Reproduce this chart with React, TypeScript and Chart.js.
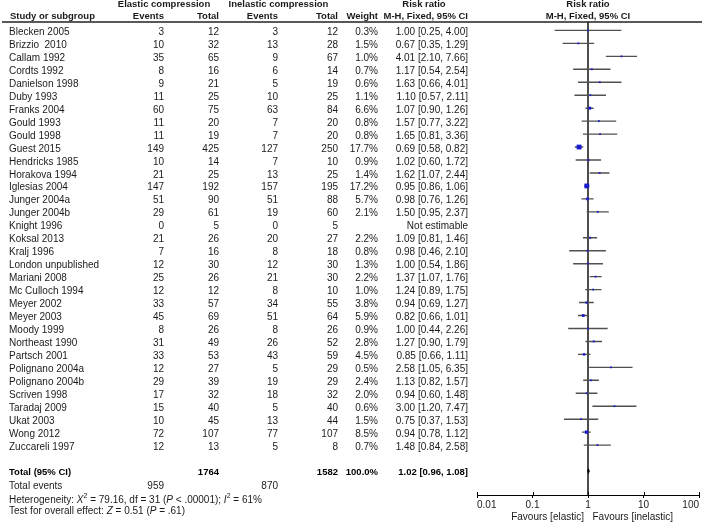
import React, { useEffect, useRef } from "react";
import { Chart, registerables } from "chart.js";

Chart.register(...registerables);

// ---------------- data ----------------
const studies = [
  "Blecken 2005", "Brizzio  2010", "Callam 1992", "Cordts 1992", "Danielson 1998",
  "Duby 1993", "Franks 2004", "Gould 1993", "Gould 1998", "Guest 2015",
  "Hendricks 1985", "Horakova 1994", "Iglesias 2004", "Junger 2004a", "Junger 2004b",
  "Knight 1996", "Koksal 2013", "Kralj 1996", "London unpublished", "Mariani 2008",
  "Mc Culloch 1994", "Meyer 2002", "Meyer 2003", "Moody 1999", "Northeast 1990",
  "Partsch 2001", "Polignano 2004a", "Polignano 2004b", "Scriven 1998", "Taradaj 2009",
  "Ukat 2003", "Wong 2012", "Zuccareli 1997",
];
const elasticEvents = [3, 10, 35, 8, 9, 11, 60, 11, 11, 149, 10, 21, 147, 51, 29, 0, 21, 7, 12, 25, 12, 33, 45, 8, 31, 33, 12, 29, 17, 15, 10, 72, 12];
const elasticTotals = [12, 32, 65, 16, 21, 25, 75, 20, 19, 425, 14, 25, 192, 90, 61, 5, 26, 16, 30, 26, 12, 57, 69, 26, 49, 53, 27, 39, 32, 40, 45, 107, 13];
const inelasticEvents = [3, 13, 9, 6, 5, 10, 63, 7, 7, 127, 7, 13, 157, 51, 19, 0, 20, 8, 12, 21, 8, 34, 51, 8, 26, 43, 5, 19, 18, 5, 13, 77, 5];
const inelasticTotals = [12, 28, 67, 14, 19, 25, 84, 20, 20, 250, 10, 25, 195, 88, 60, 5, 27, 18, 30, 30, 10, 55, 64, 26, 52, 59, 29, 29, 32, 40, 44, 107, 8];
const weights: (number | null)[] = [0.3, 1.5, 1.0, 0.7, 0.6, 1.1, 6.6, 0.8, 0.8, 17.7, 0.9, 1.4, 17.2, 5.7, 2.1, null, 2.2, 0.8, 1.3, 2.2, 1.0, 3.8, 5.9, 0.9, 2.8, 4.5, 0.5, 2.4, 2.0, 0.6, 1.5, 8.5, 0.7];
const riskRatios: (number | null)[] = [1.0, 0.67, 4.01, 1.17, 1.63, 1.1, 1.07, 1.57, 1.65, 0.69, 1.02, 1.62, 0.95, 0.98, 1.5, null, 1.09, 0.98, 1.0, 1.37, 1.24, 0.94, 0.82, 1.0, 1.27, 0.85, 2.58, 1.13, 0.94, 3.0, 0.75, 0.94, 1.48];
const ciLower: (number | null)[] = [0.25, 0.35, 2.1, 0.54, 0.66, 0.57, 0.9, 0.77, 0.81, 0.58, 0.6, 1.07, 0.86, 0.76, 0.95, null, 0.81, 0.46, 0.54, 1.07, 0.89, 0.69, 0.66, 0.44, 0.9, 0.66, 1.05, 0.82, 0.6, 1.2, 0.37, 0.78, 0.84];
const ciUpper: (number | null)[] = [4.0, 1.29, 7.66, 2.54, 4.01, 2.11, 1.26, 3.22, 3.36, 0.82, 1.72, 2.44, 1.06, 1.26, 2.37, null, 1.46, 2.1, 1.86, 1.76, 1.75, 1.27, 1.01, 2.26, 1.79, 1.11, 6.35, 1.57, 1.48, 7.47, 1.53, 1.12, 2.58];

const totalElastic = 1764;
const totalInelastic = 1582;
const totalWeight = 100.0;
const pooled = [1.02, 0.96, 1.08]; // estimate, lower, upper
const totalEventsElastic = 959;
const totalEventsInelastic = 870;
const heterogeneityChi2 = "79.16";
const heterogeneityDf = "31";
const heterogeneityP = "< .00001";
const heterogeneityI2 = "61%";
const overallZ = "0.51";
const overallP = "= .61";

const xTicks = [0.01, 0.1, 1, 10, 100];
const xTickLabels = ["0.01", "0.1", "1", "10", "100"];
const nullEffect = 1;
const favoursLeft = "Favours [elastic]";
const favoursRight = "Favours [inelastic]";

// ---------------- layout / style ----------------
const W = 709;
const H = 523;
const Y_MIN = -0.65;
const Y_MAX = 35.85;
const TOTAL_ROW = studies.length + 1;
const TEXT_DY = 1.8;
const FONT_FAMILY = '"Liberation Sans", Arial, sans-serif';
const REG = `10px ${FONT_FAMILY}`;
const BOLD = `bold 9.5px ${FONT_FAMILY}`;
const TEXT_COLOR = "#1a1a1a";
const COL = { name: 9, ev1: 164, tot1: 219, ev2: 278, tot2: 338, weight: 378, ci: 468 };

const fmtCI = (r: number, l: number, h: number) =>
  `${r.toFixed(2)} [${l.toFixed(2)}, ${h.toFixed(2)}]`;

type Seg = { t: string; italic?: boolean; sup?: boolean };

const tablePlugin = {
  id: "forestTable",
  afterDraw(chart: any) {
    const ctx: CanvasRenderingContext2D = chart.ctx;
    const xs = chart.scales.x;
    const ys = chart.scales.y;
    const area = chart.chartArea;
    const rowY = (v: number) => ys.getPixelForValue(v) + TEXT_DY;
    const text = (s: string, px: number, py: number, align: CanvasTextAlign, font = REG, color = TEXT_COLOR) => {
      ctx.font = font;
      ctx.fillStyle = color;
      ctx.textAlign = align;
      ctx.textBaseline = "middle";
      ctx.fillText(s, px, py);
    };
    const rich = (segs: Seg[], px: number, py: number) => {
      let cx = px;
      ctx.textAlign = "left";
      ctx.textBaseline = "middle";
      ctx.fillStyle = TEXT_COLOR;
      for (const sg of segs) {
        const f = sg.sup ? `7px ${FONT_FAMILY}` : `${sg.italic ? "italic " : ""}10px ${FONT_FAMILY}`;
        ctx.font = f;
        ctx.fillText(sg.t, cx, sg.sup ? py - 3.5 : py);
        cx += ctx.measureText(sg.t).width;
      }
    };

    ctx.save();
    // header
    const h1 = area.top - 17.5;
    const h2 = area.top - 5.5;
    text("Elastic compression", 164, h1, "center", BOLD);
    text("Inelastic compression", 278.5, h1, "center", BOLD);
    text("Risk ratio", 424, h1, "center", BOLD);
    const mid = xs.getPixelForValue(nullEffect);
    text("Risk ratio", mid, h1, "center", BOLD);
    text("Study or subgroup", 10, h2, "left", BOLD);
    text("Events", COL.ev1, h2, "right", BOLD);
    text("Total", COL.tot1, h2, "right", BOLD);
    text("Events", COL.ev2, h2, "right", BOLD);
    text("Total", COL.tot2, h2, "right", BOLD);
    text("Weight", COL.weight, h2, "right", BOLD);
    text("M-H, Fixed, 95% CI", COL.ci, h2, "right", BOLD);
    text("M-H, Fixed, 95% CI", mid, h2, "center", BOLD);

    ctx.strokeStyle = "#222";
    ctx.lineWidth = 1.5;
    ctx.beginPath();
    ctx.moveTo(2, area.top);
    ctx.lineTo(702, area.top);
    ctx.stroke();

    // study rows
    studies.forEach((name, i) => {
      const py = rowY(i);
      text(name, COL.name, py, "left");
      text(String(elasticEvents[i]), COL.ev1, py, "right");
      text(String(elasticTotals[i]), COL.tot1, py, "right");
      text(String(inelasticEvents[i]), COL.ev2, py, "right");
      text(String(inelasticTotals[i]), COL.tot2, py, "right");
      const w = weights[i];
      const r = riskRatios[i];
      const l = ciLower[i];
      const u = ciUpper[i];
      if (w != null) text(`${w.toFixed(1)}%`, COL.weight, py, "right");
      if (r != null && l != null && u != null) text(fmtCI(r, l, u), COL.ci, py, "right");
      else text("Not estimable", COL.ci, py, "right");
    });

    // total rows
    const ty = rowY(TOTAL_ROW);
    text("Total (95% CI)", COL.name, ty, "left", BOLD, "#000");
    text(String(totalElastic), COL.tot1, ty, "right", BOLD, "#000");
    text(String(totalInelastic), COL.tot2, ty, "right", BOLD, "#000");
    text(`${totalWeight.toFixed(1)}%`, COL.weight, ty, "right", BOLD, "#000");
    text(fmtCI(pooled[0], pooled[1], pooled[2]), COL.ci, ty, "right", BOLD, "#000");

    const ey = rowY(TOTAL_ROW + 1);
    text("Total events", COL.name, ey, "left");
    text(String(totalEventsElastic), COL.ev1, ey, "right");
    text(String(totalEventsInelastic), COL.ev2, ey, "right");

    rich(
      [
        { t: "Heterogeneity: " },
        { t: "X", italic: true },
        { t: "2", sup: true },
        { t: ` = ${heterogeneityChi2}, df = ${heterogeneityDf} (` },
        { t: "P", italic: true },
        { t: ` ${heterogeneityP}); ` },
        { t: "I", italic: true },
        { t: "2", sup: true },
        { t: ` = ${heterogeneityI2}` },
      ],
      COL.name,
      rowY(TOTAL_ROW + 2.1)
    );
    rich(
      [
        { t: "Test for overall effect: " },
        { t: "Z", italic: true },
        { t: ` = ${overallZ} (` },
        { t: "P", italic: true },
        { t: ` ${overallP})` },
      ],
      COL.name,
      rowY(TOTAL_ROW + 3)
    );

    // pooled diamond
    const dy0 = ys.getPixelForValue(TOTAL_ROW);
    const dh = Math.abs(ys.getPixelForValue(TOTAL_ROW + 0.23) - dy0);
    ctx.fillStyle = "#000";
    ctx.beginPath();
    ctx.moveTo(xs.getPixelForValue(pooled[1]), dy0);
    ctx.lineTo(xs.getPixelForValue(pooled[0]), dy0 - dh);
    ctx.lineTo(xs.getPixelForValue(pooled[2]), dy0);
    ctx.lineTo(xs.getPixelForValue(pooled[0]), dy0 + dh);
    ctx.closePath();
    ctx.fill();

    // upward tick stubs
    ctx.strokeStyle = "#000";
    ctx.lineWidth = 1;
    xTicks.forEach((v) => {
      const px = Math.round(xs.getPixelForValue(v)) + 0.5;
      ctx.beginPath();
      ctx.moveTo(px, area.bottom - 3);
      ctx.lineTo(px, area.bottom);
      ctx.stroke();
    });

    // favours labels
    const fy = area.bottom + 22.3;
    text(favoursLeft, mid - 4, fy, "right");
    text(favoursRight, mid + 4.5, fy, "left");
    ctx.restore();
  },
};

export default function App() {
  const ref = useRef<HTMLCanvasElement | null>(null);

  useEffect(() => {
    if (!ref.current) return;
    const squares: { x: number; y: number }[] = [];
    const radii: number[] = [];
    const ciPts: { x: number; y: number | null }[] = [];
    studies.forEach((_, i) => {
      const r = riskRatios[i];
      const l = ciLower[i];
      const u = ciUpper[i];
      const w = weights[i];
      if (r == null || l == null || u == null || w == null) return;
      squares.push({ x: r, y: i });
      const side = Math.max(1.8, 1.15 * Math.sqrt(w));
      radii.push(side / Math.SQRT2);
      ciPts.push({ x: l, y: i }, { x: u, y: i }, { x: u, y: null });
    });

    const chart = new Chart(ref.current, {
      type: "line",
      data: {
        datasets: [
          {
            label: "estimates",
            data: squares,
            showLine: false,
            pointStyle: "rect",
            pointRadius: radii,
            pointBackgroundColor: "#1a1ad0",
            pointBorderWidth: 0,
            pointBorderColor: "#1a1ad0",
          } as any,
          {
            label: "ci",
            data: ciPts,
            borderColor: "#505050",
            borderWidth: 1.4,
            pointRadius: 0,
            spanGaps: false,
          } as any,
          {
            label: "null",
            data: [
              { x: nullEffect, y: Y_MIN },
              { x: nullEffect, y: Y_MAX },
            ],
            borderColor: "#222",
            borderWidth: 1.6,
            pointRadius: 0,
          } as any,
        ],
      },
      options: {
        animation: false,
        responsive: false,
        devicePixelRatio: 1,
        events: [],
        layout: { padding: { left: 477, right: 10, top: 22, bottom: 0 } },
        plugins: { legend: { display: false }, tooltip: { enabled: false } },
        scales: {
          x: {
            type: "logarithmic",
            min: xTicks[0],
            max: xTicks[xTicks.length - 1],
            afterBuildTicks: (scale: any) => {
              scale.ticks = xTicks.map((v) => ({ value: v }));
            },
            afterFit: (scale: any) => {
              scale.height = 28;
            },
            grid: { drawOnChartArea: false, drawTicks: true, tickLength: 3, color: "#000", lineWidth: 1 },
            border: { display: true, color: "#000", width: 1 },
            ticks: {
              autoSkip: false,
              maxRotation: 0,
              align: "inner",
              padding: 1,
              color: "#1a1a1a",
              font: { family: FONT_FAMILY, size: 10 },
              callback: (_v: any, idx: number) => xTickLabels[idx],
            },
          } as any,
          y: {
            type: "linear",
            min: Y_MIN,
            max: Y_MAX,
            reverse: true,
            display: false,
          },
        },
      },
      plugins: [tablePlugin],
    });
    return () => chart.destroy();
  }, []);

  return (
    <div style={{ position: "absolute", left: 0, top: 0, width: W, height: H, background: "#fff" }}>
      <canvas ref={ref} width={W} height={H} style={{ display: "block" }} />
    </div>
  );
}
